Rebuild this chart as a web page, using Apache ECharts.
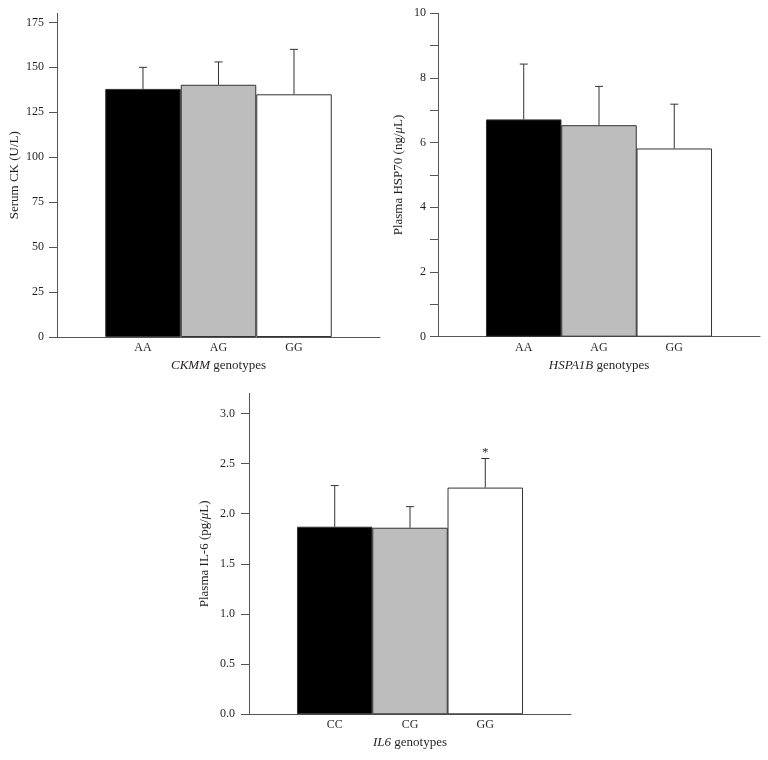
<!DOCTYPE html>
<html><head><meta charset="utf-8">
<script src="https://cdn.jsdelivr.net/npm/echarts@6/dist/echarts.min.js"></script>
<style>html,body{margin:0;padding:0;background:#fff}#c{width:768px;height:760px}</style>
</head><body><div id="c"></div>
<script>
// ---- Data ----
const ckCategories = ['AA', 'AG', 'GG'];
const ckMeans = [138, 140.3, 135];
const ckErrors = [12, 12.7, 25];
const ckTickValues = [0, 25, 50, 75, 100, 125, 150, 175];

const hspCategories = ['AA', 'AG', 'GG'];
const hspMeans = [6.72, 6.54, 5.82];
const hspErrors = [1.71, 1.2, 1.37];
const hspLabelValues = [0, 2, 4, 6, 8, 10];
const hspTickValues = [0, 1, 2, 3, 4, 5, 6, 7, 8, 9, 10];

const il6Categories = ['CC', 'CG', 'GG'];
const il6Means = [1.87, 1.86, 2.26];
const il6Errors = [0.41, 0.21, 0.29];
const il6Signif = ['', '', '*'];
const il6TickValues = [0, 0.5, 1.0, 1.5, 2.0, 2.5, 3.0];

// ---- Style ----
const barColors = ['#000000', '#bdbdbd', '#ffffff'];
const textColor = '#231f20';
const axisColor = '#555555';
const edgeColor = '#333333';
const FONT = '"Liberation Serif", "DejaVu Serif", serif';

function panel(idx, p) {
  const grid = Object.assign({ containLabel: false }, p.grid);
  const xAxis = {
    gridIndex: idx, type: 'value', min: -0.139, max: 4.139,
    axisLine: { show: true, onZero: false, lineStyle: { color: axisColor, width: 1 } },
    axisTick: { show: false },
    splitLine: { show: false },
    axisLabel: {
      customValues: [1, 2, 3],
      formatter: v => p.cats[Math.round(v) - 1] || '',
      margin: 5, fontSize: 12, color: textColor, fontFamily: FONT
    },
    name: p.xName, nameLocation: 'middle', nameGap: 22,
    nameTextStyle: { fontSize: 13, color: textColor, fontFamily: FONT,
      rich: { i: { fontStyle: 'italic', fontSize: 13, color: textColor, fontFamily: FONT } } }
  };
  const yAxis = {
    gridIndex: idx, type: 'value', min: 0, max: p.yMax,
    axisLine: { show: true, onZero: false, lineStyle: { color: axisColor, width: 1 } },
    axisTick: { show: true, length: 8, customValues: p.tickValues, lineStyle: { color: axisColor } },
    splitLine: { show: false },
    axisLabel: {
      customValues: p.labelValues,
      formatter: p.fmt,
      margin: p.labelMargin, fontSize: 12, color: textColor, fontFamily: FONT
    },
    name: p.yName, nameLocation: 'middle', nameRotate: 90, nameGap: p.nameGap,
    nameTextStyle: { fontSize: 13, color: textColor, fontFamily: FONT,
      rich: { i: { fontStyle: 'italic', fontSize: 13, color: textColor, fontFamily: FONT } } }
  };
  const bars = {
    type: 'bar', xAxisIndex: idx, yAxisIndex: idx, barWidth: 75.5,
    itemStyle: { borderColor: edgeColor, borderWidth: 1 },
    silent: true, animation: false,
    data: p.means.map((m, k) => ({ value: [k + 1, m], itemStyle: { color: barColors[k] } }))
  };
  const sig = p.signif || [];
  const errs = {
    type: 'custom', xAxisIndex: idx, yAxisIndex: idx, z: 5, silent: true, animation: false,
    encode: { x: 0, y: 1 },
    data: p.means.map((m, k) => [k + 1, m, p.errors[k]]),
    renderItem: function (params, api) {
      const x = api.value(0), m = api.value(1), e = api.value(2);
      const p0 = api.coord([x, m]);
      const p1 = api.coord([x, m + e]);
      const st = { stroke: edgeColor, lineWidth: 1 };
      const children = [
        { type: 'line', shape: { x1: p0[0], y1: p0[1], x2: p1[0], y2: p1[1] }, style: st },
        { type: 'line', shape: { x1: p1[0] - 4, y1: p1[1], x2: p1[0] + 4, y2: p1[1] }, style: st }
      ];
      const s = sig[params.dataIndex];
      if (s) {
        children.push({ type: 'text', x: p1[0], y: p1[1] + 1,
          style: { text: s, fill: textColor, font: '13px ' + FONT, align: 'center', verticalAlign: 'bottom' } });
      }
      return { type: 'group', children: children };
    }
  };
  return { grid, xAxis, yAxis, series: [bars, errs] };
}

const panels = [
  panel(0, {
    grid: { left: 57, right: 388, top: 13.4, bottom: 423 },
    cats: ckCategories, means: ckMeans, errors: ckErrors, yMax: 180,
    tickValues: ckTickValues, labelValues: ckTickValues, fmt: v => String(v),
    labelMargin: 13, nameGap: 36,
    yName: 'Serum CK (U/L)', xName: '{i|CKMM} genotypes'
  }),
  panel(1, {
    grid: { left: 438, right: 8, top: 13.3, bottom: 423.3 },
    cats: hspCategories, means: hspMeans, errors: hspErrors, yMax: 10,
    tickValues: hspTickValues, labelValues: hspLabelValues, fmt: v => String(v),
    labelMargin: 12, nameGap: 33,
    yName: 'Plasma HSP70 (ng/{i|μ}L)', xName: '{i|HSPA1B} genotypes'
  }),
  panel(2, {
    grid: { left: 249, right: 197, top: 393.3, bottom: 45.7 },
    cats: il6Categories, means: il6Means, errors: il6Errors, signif: il6Signif, yMax: 3.2,
    tickValues: il6TickValues, labelValues: il6TickValues, fmt: v => v.toFixed(1),
    labelMargin: 14, nameGap: 38,
    yName: 'Plasma IL-6 (pg/{i|μ}L)', xName: '{i|IL6} genotypes'
  })
];

const chart = echarts.init(document.getElementById('c'), null, { renderer: 'canvas' });
chart.setOption({
  backgroundColor: '#ffffff',
  animation: false,
  grid: panels.map(p => p.grid),
  xAxis: panels.map(p => p.xAxis),
  yAxis: panels.map(p => p.yAxis),
  series: panels.reduce((a, p) => a.concat(p.series), [])
});
</script>
</body></html>
